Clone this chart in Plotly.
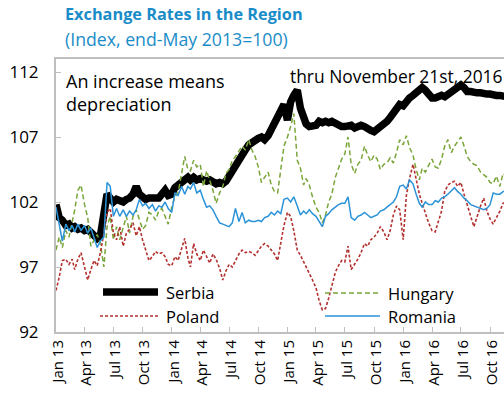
import plotly.graph_objects as go

# ---- data -------------------------------------------------------------
months = [(y, m) for y in range(2013, 2017) for m in range(1, 13)][:47]
dates = [f"{y}-{m:02d}-{d:02d}" for (y, m) in months for d in (1, 11, 21)]

serbia = [
    101.8,100.8,100.6, 100.2,100.3,100.0, 100.1,99.9,100.0, 99.8,99.9,99.7, 99.5,99.2,99.4, 101.5,102.6,102.3,
    102.0,102.2,102.1, 102.0,102.2,102.3, 102.6,103.2,102.6, 102.3,102.2,102.3, 102.3,102.2,102.3, 102.6,102.9,102.5,
    102.6,103.1,103.3, 103.5,103.8,103.9, 103.7,103.9,103.7, 103.8,103.7,103.6, 103.7,103.6,103.4, 103.5,103.4,103.6,
    104.0,104.6,104.8, 105.2,105.6,106.0, 106.4,106.6,106.7, 106.9,107.0,106.8, 107.1,107.6,108.0, 108.5,109.2,109.5,
    108.3,109.7,110.2, 110.6,109.2,108.3, 108.0,107.8,107.8, 107.9,108.2,108.1, 108.2,108.1,108.2, 108.0,107.9,107.8,
    107.8,107.8,107.9, 107.7,107.8,107.9, 107.8,107.6,107.5, 107.4,107.6,107.8, 107.9,108.2,108.5, 108.9,109.1,109.5,
    109.4,109.8,110.0, 110.2,110.4,110.6, 110.8,110.6,110.2, 110.0,110.0,110.1, 110.2,110.1,110.3, 110.5,110.6,110.8,
    111.0,110.8,110.5, 110.5,110.4,110.4, 110.4,110.3,110.3, 110.3,110.2,110.2, 110.2,110.1,110.1,
]

hungary = [
    98.3,99.3,98.5, 99.8,99.3,100.5, 101.4,102.9,103.3, 101.8,100.8,98.6, 99.0,99.5,98.8, 97.0,100.1,100.9,
    99.1,100.1,99.1, 100.1,100.9,99.6, 100.9,101.4,100.6, 99.9,100.2,101.2, 101.0,100.6,101.3, 101.5,100.9,100.3,
    101.6,102.4,102.7, 104.2,105.5,104.5, 104.4,105.2,104.7, 104.9,103.2,104.4, 103.7,102.9,101.9, 102.7,103.2,104.2,
    104.5,105.2,105.5, 105.9,106.3,106.0, 106.8,106.0,105.5, 104.7,103.5,103.9, 104.3,103.3,102.8, 102.7,104.7,106.3,
    107.0,107.8,108.8, 105.2,104.6,103.3, 103.8,103.3,102.4, 101.6,101.2,100.4, 101.0,102.0,102.6, 103.9,104.6,105.3,
    105.7,107.0,104.9, 104.2,104.9,105.2, 106.3,105.6,105.1, 105.6,105.3,104.5, 104.9,105.0,105.4, 105.0,105.8,106.8,
    106.4,107.1,106.2, 105.6,104.5,103.7, 104.6,104.3,104.8, 105.3,104.7,104.6, 105.3,106.3,106.8, 105.8,106.3,106.7,
    107.0,106.3,105.5, 105.1,104.9,104.8, 104.3,104.1,103.9, 103.5,103.4,104.0, 103.2,104.2,104.0,
]

poland = [
    95.2,96.2,97.5, 97.6,97.2,97.6, 96.8,97.6,98.1, 97.0,96.0,96.8, 97.5,97.1,98.1, 99.6,101.2,101.5,
    99.6,99.1,100.1, 98.6,99.6,99.9, 100.4,99.4,100.1, 99.1,98.3,97.5, 97.8,98.2,98.0, 98.1,97.8,97.2,
    97.1,97.8,97.5, 98.4,99.2,97.7, 97.0,98.8,98.0, 97.5,98.3,97.8, 97.3,98.0,97.6, 96.9,96.0,96.7,
    97.2,97.0,97.5, 98.0,98.3,98.1, 98.2,98.1,97.9, 98.3,98.6,98.8, 98.6,98.3,98.0, 97.5,98.8,100.2,
    101.2,100.9,99.8, 98.3,97.9,97.4, 97.0,96.6,96.0, 95.4,94.4,93.7, 93.8,94.6,95.6, 96.6,97.1,97.5,
    97.4,98.6,96.8, 97.2,97.6,98.1, 98.8,98.6,99.1, 99.3,99.6,100.1, 99.7,99.1,99.8, 101.0,101.7,101.4,
    99.1,102.5,103.8, 104.9,103.7,102.6, 101.9,101.1,100.4, 99.8,99.7,100.5, 101.3,102.8,103.3, 103.5,103.6,103.2,
    103.5,102.6,101.7, 100.9,100.1,100.9, 101.7,102.3,101.3, 100.7,100.3,100.8, 101.3,101.9,102.0,
]

romania = [
    101.6,100.2,99.0, 100.3,99.8,100.2, 99.7,100.3,99.8, 100.2,99.6,100.0, 99.2,98.5,99.0, 99.3,103.5,103.2,
    100.9,101.5,100.9, 101.4,100.9,101.3, 101.0,101.4,102.2, 101.7,101.9,101.5, 101.8,101.3,101.7, 101.6,102.0,101.5,
    101.2,102.7,102.5, 103.2,102.6,103.2, 103.0,103.5,102.7, 102.9,102.2,101.6, 101.7,101.4,100.9, 100.4,100.3,100.2,
    100.1,100.4,101.5, 100.5,101.2,100.4, 100.6,100.5,100.5, 100.6,100.5,100.8, 100.9,101.2,101.0, 101.3,101.1,102.2,
    102.3,102.0,102.4, 101.7,101.0,101.3, 101.1,101.4,101.1, 100.9,100.5,100.1, 100.9,101.1,101.4, 101.6,101.8,101.9,
    101.9,102.4,100.8, 100.6,100.9,101.0, 101.2,101.0,100.8, 100.9,101.0,101.3, 101.4,101.6,101.8, 102.0,102.4,103.2,
    103.3,103.0,103.7, 103.4,102.6,101.9, 101.6,102.0,101.8, 101.8,102.1,102.0, 102.3,102.4,102.6, 102.9,103.1,102.8,
    102.6,102.3,102.1, 101.8,101.7,101.6, 101.5,101.4,101.5, 101.8,102.7,102.6, 102.6,102.8,102.9,
]

tick_dates = ["2013-01-01", "2013-04-01", "2013-07-01", "2013-10-01",
              "2014-01-01", "2014-04-01", "2014-07-01", "2014-10-01",
              "2015-01-01", "2015-04-01", "2015-07-01", "2015-10-01",
              "2016-01-01", "2016-04-01", "2016-07-01", "2016-10-01"]
tick_labels = ["Jan 13", "Apr 13", "Jul 13", "Oct 13",
               "Jan 14", "Apr 14", "Jul 14", "Oct 14",
               "Jan 15", "Apr 15", "Jul 15", "Oct 15",
               "Jan 16", "Apr 16", "Jul 16", "Oct 16"]
y_ticks = [92, 97, 102, 107, 112]

# ---- styles -----------------------------------------------------------
FONT = "Open Sans"
C_SERBIA = "#000000"
C_HUNGARY = "#7aa53a"
C_POLAND = "#b3312f"
C_ROMANIA = "#2b93d8"
C_TITLE = "#1a8cc8"
AXIS = "#bfbfbf"

L, T, B, W, H = 56, 59, 68, 504, 400
PW, PH = W - L, H - T - B


def px(x):
    return (x - L) / PW


def py(y):
    return (H - B - y) / PH


fig = go.Figure()
fig.add_trace(go.Scatter(x=dates, y=serbia, mode="lines", name="Serbia",
                         line=dict(color=C_SERBIA, width=7.5)))
fig.add_trace(go.Scatter(x=dates, y=hungary, mode="lines", name="Hungary",
                         line=dict(color=C_HUNGARY, width=1.5, dash="5px,3px")))
fig.add_trace(go.Scatter(x=dates, y=poland, mode="lines", name="Poland",
                         line=dict(color=C_POLAND, width=1.6, dash="3px,2px")))
fig.add_trace(go.Scatter(x=dates, y=romania, mode="lines", name="Romania",
                         line=dict(color=C_ROMANIA, width=1.5)))

shapes = [
    dict(type="line", xref="paper", yref="paper", x0=px(103), x1=px(158), y0=py(292), y1=py(292),
         line=dict(color=C_SERBIA, width=7.5)),
    dict(type="line", xref="paper", yref="paper", x0=px(100), x1=px(160), y0=py(316), y1=py(316),
         line=dict(color=C_POLAND, width=1.6, dash="3px,2px")),
    dict(type="line", xref="paper", yref="paper", x0=px(325), x1=px(378), y0=py(293), y1=py(293),
         line=dict(color=C_HUNGARY, width=1.5, dash="5px,3px")),
    dict(type="line", xref="paper", yref="paper", x0=px(325), x1=px(380), y0=py(316), y1=py(316),
         line=dict(color=C_ROMANIA, width=1.5)),
]


def ann(text, x, y, size, color="#000000", xanchor="left", bold=False):
    return dict(text=f"<b>{text}</b>" if bold else text, x=px(x), y=py(y), xref="paper", yref="paper",
                xanchor=xanchor, yanchor="middle", showarrow=False, align="left",
                font=dict(family=FONT, size=size, color=color))


annotations = [
    ann("Exchange Rates in the Region", 63, 14, 16.3, C_TITLE, bold=True),
    ann("(Index, end-May 2013=100)", 63, 39, 17.7, C_TITLE),
    ann("An increase means<br>depreciation", 64, 92, 18),
    ann("thru November 21st, 2016", 288, 76, 17.4),
    ann("Serbia", 164, 292, 16.5),
    ann("Poland", 164, 316, 16.5),
    ann("Hungary", 386, 293, 16.5),
    ann("Romania", 386, 316, 16.5),
]

fig.update_layout(
    width=W, height=H,
    margin=dict(l=L, r=0, t=T, b=B, autoexpand=False),
    paper_bgcolor="white", plot_bgcolor="white",
    showlegend=False,
    shapes=shapes, annotations=annotations,
    font=dict(family=FONT, color="#000000"),
)
fig.update_xaxes(
    type="date", range=["2013-01-01", "2016-11-14"],
    tickmode="array", tickvals=tick_dates, ticktext=tick_labels, tickangle=-90,
    tickfont=dict(family=FONT, size=15, color="#000000"),
    ticks="inside", ticklen=5, tickcolor=AXIS, tickwidth=1, ticklabelshift=2,
    showline=True, linecolor=AXIS, linewidth=2, mirror=True,
    showgrid=False, zeroline=False, automargin=False,
)
fig.update_yaxes(
    range=[92, 113], tickmode="array", tickvals=y_ticks,
    tickfont=dict(family=FONT, size=17, color="#000000"),
    ticks="inside", ticklen=5, tickcolor=AXIS, tickwidth=1,
    ticklabelstandoff=12,
    showline=True, linecolor=AXIS, linewidth=2,
    showgrid=False, zeroline=False, automargin=False,
)

fig.write_html("out.html", config={"displayModeBar": False},
               post_script="document.body.style.margin='0px';")
